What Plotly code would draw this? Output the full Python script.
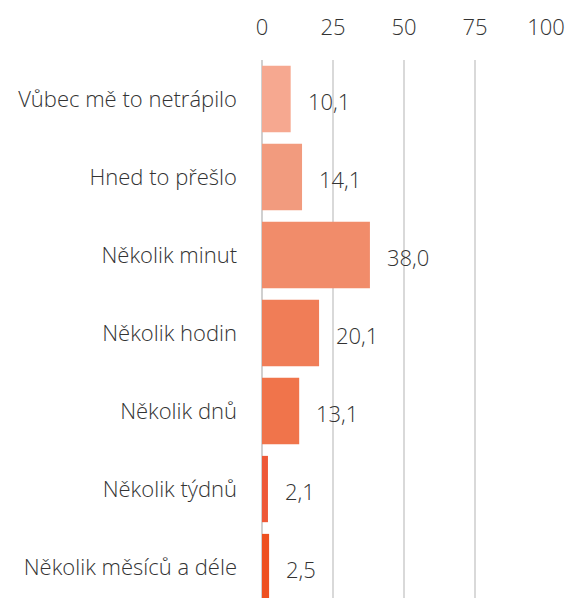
import plotly.graph_objects as go

categories = ["Vůbec mě to netrápilo", "Hned to přešlo", "Několik minut", "Několik hodin",
              "Několik dnů", "Několik týdnů", "Několik měsíců a déle"]
values = [10.1, 14.1, 38.0, 20.1, 13.1, 2.1, 2.5]
colors = ["#F6A890", "#F29B7E", "#F18C6A", "#F07D57", "#F0744B", "#EE5837", "#EE5020"]
tick_vals = [0, 25, 50, 75, 100]

FONT = "Open Sans"
TXT = "#333333"
FS = 22

fig = go.Figure()
fig.add_trace(go.Bar(
    x=values, y=categories, orientation="h",
    marker=dict(color=colors, line=dict(width=0)),
    hoverinfo="skip",
))

for c, v in zip(categories, values):
    fig.add_annotation(x=v, y=c, text=f"{v:.1f}".replace(".", ","),
                       xanchor="left", yanchor="middle", xshift=15, yshift=-2,
                       showarrow=False, font=dict(family=FONT, size=FS, color=TXT, weight=300))

fig.update_layout(
    width=566, height=598,
    margin=dict(l=262, r=20, t=60, b=0),
    paper_bgcolor="white", plot_bgcolor="white",
    bargap=0.15,
    showlegend=False,
    font=dict(family=FONT, size=FS, color=TXT, weight=300),
)
fig.update_xaxes(
    side="top", range=[0, 100], tickvals=tick_vals, ticktext=[str(t) for t in tick_vals],
    showgrid=True, gridcolor="#D9D9D9", gridwidth=1.5,
    zeroline=True, zerolinecolor="#D0D0D0", zerolinewidth=2,
    showline=False, ticks="", ticklabelstandoff=20,
    tickfont=dict(family=FONT, size=FS, color=TXT, weight=300),
)
fig.update_yaxes(
    type="category", categoryorder="array", categoryarray=categories,
    range=[6.397, -0.5], showgrid=False, zeroline=False, showline=False, ticks="",
    ticklabelstandoff=24,
    tickfont=dict(family=FONT, size=FS, color=TXT, weight=300),
)

fig.write_html(
    "out.html",
    config={"displayModeBar": False},
    post_script="document.body.style.margin='0';document.body.style.overflow='hidden';",
)
